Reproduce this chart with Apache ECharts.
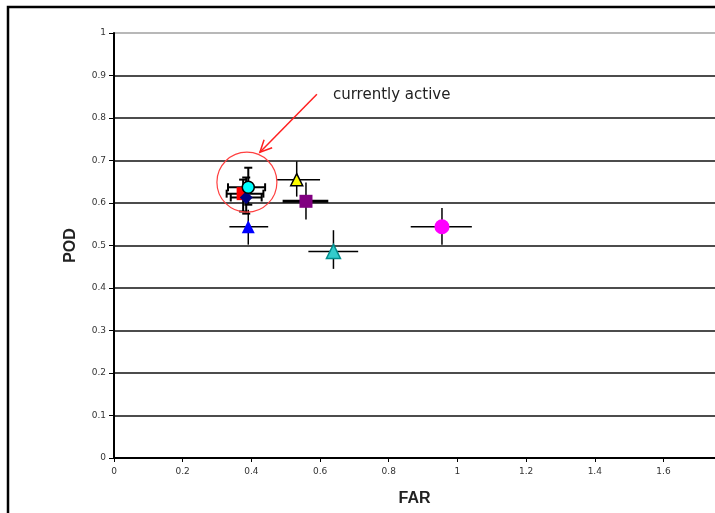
<!DOCTYPE html>
<html>
<head>
<meta charset="utf-8">
<script src="https://cdn.jsdelivr.net/npm/echarts@6/dist/echarts.min.js"></script>
<style>
  html, body { margin: 0; padding: 0; background: #fff; }
  #main { width: 715px; height: 513px; }
</style>
</head>
<body>
<div id="main"></div>
<script>
// data
var names  = ['yellow', 'purple', 'teal', 'magenta', 'blue', 'red', 'navy', 'cyan'];
var far    = [0.532, 0.559, 0.639, 0.955, 0.391, 0.376, 0.385, 0.391];
var pod    = [0.655, 0.604, 0.486, 0.544, 0.544, 0.622, 0.613, 0.637];
var farLo  = [0.475, 0.491, 0.566, 0.864, 0.336, 0.328, 0.340, 0.332];
var farHi  = [0.600, 0.624, 0.711, 1.042, 0.449, 0.435, 0.430, 0.440];
var podLo  = [0.615, 0.561, 0.445, 0.502, 0.502, 0.580, 0.575, 0.596];
var podHi  = [0.698, 0.648, 0.536, 0.588, 0.584, 0.655, 0.660, 0.683];
var capped = [0, 0, 0, 0, 0, 1, 1, 1];
var xTicks = [0, 0.2, 0.4, 0.6, 0.8, 1, 1.2, 1.4, 1.6];
var yTicks = [0, 0.1, 0.2, 0.3, 0.4, 0.5, 0.6, 0.7, 0.8, 0.9, 1];

var markers = {
  yellow:  { symbol: 'triangle', size: 12, color: '#ffff00', border: '#000', bw: 1.5 },
  purple:  { symbol: 'rect',     size: 13, color: '#800080', border: '#800080', bw: 0 },
  teal:    { symbol: 'triangle', size: 14, color: '#33cccc', border: '#008c8c', bw: 1.5 },
  magenta: { symbol: 'circle',   size: 15, color: '#ff00ff', border: '#ff00ff', bw: 0 },
  blue:    { symbol: 'triangle', size: 13, color: '#0000ff', border: '#0000ff', bw: 0 },
  red:     { symbol: 'rect',     size: 13, color: '#ff0000', border: '#ff0000', bw: 0 },
  navy:    { symbol: 'diamond',  size: 13, color: '#000080', border: '#000080', bw: 0 },
  cyan:    { symbol: 'circle',   size: 12, color: '#00ffff', border: '#000', bw: 1.5 }
};

var chart = echarts.init(document.getElementById('main'));

var barData = names.map(function (n, i) {
  return [far[i], pod[i], farLo[i], farHi[i], podLo[i], podHi[i], capped[i], i];
});

function renderBars(params, api) {
  var c = api.coord([api.value(0), api.value(1)]);
  var l = api.coord([api.value(2), api.value(1)]);
  var r = api.coord([api.value(3), api.value(1)]);
  var t = api.coord([api.value(0), api.value(5)]);
  var b = api.coord([api.value(0), api.value(4)]);
  var cap = api.value(6);
  var idx = api.value(7);
  var w = cap ? 2 : 1.5;
  var hw = idx === 1 ? 3 : w;
  var st = { stroke: '#000', lineWidth: w };
  var kids = [
    { type: 'line', shape: { x1: l[0], y1: l[1], x2: r[0], y2: r[1] }, style: { stroke: '#000', lineWidth: hw } },
    { type: 'line', shape: { x1: c[0], y1: t[1], x2: c[0], y2: b[1] }, style: st }
  ];
  if (cap) {
    kids.push({ type: 'line', shape: { x1: l[0], y1: l[1] - 4, x2: l[0], y2: l[1] + 4 }, style: st });
    kids.push({ type: 'line', shape: { x1: r[0], y1: r[1] - 4, x2: r[0], y2: r[1] + 4 }, style: st });
    kids.push({ type: 'line', shape: { x1: c[0] - 4, y1: t[1], x2: c[0] + 4, y2: t[1] }, style: st });
    kids.push({ type: 'line', shape: { x1: c[0] - 4, y1: b[1], x2: c[0] + 4, y2: b[1] }, style: st });
  }
  return { type: 'group', children: kids };
}

var series = [{
  type: 'custom',
  renderItem: renderBars,
  data: barData,
  z: 1,
  silent: true
}];
names.forEach(function (n, i) {
  var m = markers[n];
  series.push({
    name: n,
    type: 'scatter',
    z: 5,
    symbol: m.symbol,
    symbolSize: m.size,
    itemStyle: { color: m.color, borderColor: m.border, borderWidth: m.bw, opacity: 1 },
    data: [[far[i], pod[i]]]
  });
});

var gridColors = yTicks.map(function (v, i) { return i === yTicks.length - 1 ? '#a0a0a0' : '#111'; });

chart.setOption({
  animation: false,
  backgroundColor: '#fff',
  grid: { left: 114, top: 33, right: 0, bottom: 55 },
  xAxis: {
    type: 'value',
    min: 0,
    max: 1.75,
    interval: 0.2,
    name: 'FAR',
    nameLocation: 'middle',
    nameGap: 33,
    nameTextStyle: { fontFamily: 'Liberation Sans', fontWeight: 'bold', fontSize: 16, color: '#222' },
    axisLine: { lineStyle: { color: '#000', width: 2 } },
    axisTick: { show: true, length: 4, lineStyle: { color: '#000' } },
    axisLabel: {
      showMaxLabel: false,
      fontFamily: 'DejaVu Sans', fontSize: 9, color: '#333', margin: 9,
      formatter: function (v) { return xTicks.indexOf(+v.toFixed(1)) >= 0 ? String(+v.toFixed(1)) : ''; }
    },
    splitLine: { show: false }
  },
  yAxis: {
    type: 'value',
    min: 0,
    max: 1,
    interval: 0.1,
    name: 'POD',
    nameLocation: 'middle',
    nameRotate: 90,
    nameGap: 35,
    nameTextStyle: { fontFamily: 'Liberation Sans', fontWeight: 'bold', fontSize: 16, color: '#222' },
    axisLine: { show: true, lineStyle: { color: '#000', width: 2 } },
    axisTick: { show: true, length: 5, lineStyle: { color: '#000' } },
    axisLabel: {
      fontFamily: 'DejaVu Sans', fontSize: 9, color: '#333', margin: 8,
      formatter: function (v) { return String(+v.toFixed(1)); }
    },
    splitLine: { show: true, lineStyle: { color: gridColors, width: 1.6 } }
  },
  series: series
});

// annotation: circle around the active cluster plus arrow and label
var ctr = chart.convertToPixel({ gridIndex: 0 }, [0.387, 0.649]);
var tail = [ctr[0] + 70, ctr[1] - 88];
var head = [ctr[0] + 13, ctr[1] - 30];
var ang = Math.atan2(head[1] - tail[1], head[0] - tail[0]);
function wing(a) {
  return [head[0] - 13 * Math.cos(ang + a), head[1] - 13 * Math.sin(ang + a)];
}
var w1 = wing(0.45), w2 = wing(-0.45);
chart.setOption({
  graphic: [
    { type: 'rect', shape: { x: 8, y: 7, width: 720, height: 520 }, style: { fill: 'none', stroke: '#000', lineWidth: 2.5 }, z: 100 },
    { type: 'circle', shape: { cx: ctr[0], cy: ctr[1], r: 30 }, style: { fill: 'none', stroke: '#ff4040', lineWidth: 1.2 }, z: 100 },
    { type: 'polyline', shape: { points: [tail, head] }, style: { stroke: '#ff2020', lineWidth: 1.5 }, z: 100 },
    { type: 'polyline', shape: { points: [w1, head, w2] }, style: { stroke: '#ff2020', lineWidth: 1.5, fill: 'none' }, z: 100 },
    { type: 'text', x: tail[0] + 16, y: tail[1] + 1, style: { text: 'currently active', fontFamily: 'DejaVu Sans', fontSize: 15, fill: '#222', textVerticalAlign: 'middle', textAlign: 'left' }, z: 100 }
  ]
});
</script>
</body>
</html>
